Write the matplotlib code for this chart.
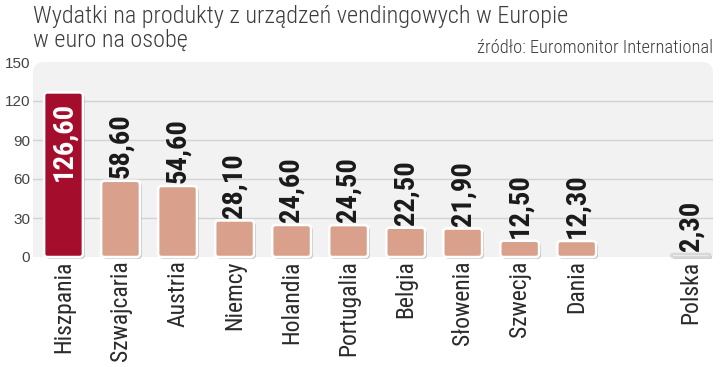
import matplotlib
matplotlib.use("Agg")
import matplotlib.pyplot as plt
import matplotlib.patheffects as pe
from matplotlib.patches import FancyBboxPatch

# ---- data ----
categories = ["Hiszpania", "Szwajcaria", "Austria", "Niemcy", "Holandia", "Portugalia",
              "Belgia", "Słowenia", "Szwecja", "Dania", "Polska"]
values = [126.60, 58.60, 54.60, 28.10, 24.60, 24.50, 22.50, 21.90, 12.50, 12.30, 2.30]
positions = [0, 1, 2, 3, 4, 5, 6, 7, 8, 9, 11]
yticks = [0, 30, 60, 90, 120, 150]
title_lines = ["Wydatki na produkty z urządzeń vendingowych w Europie", "w euro na osobę"]
source = "źródło: Euromonitor International"

NARROW = ["Roboto Condensed", "DejaVu Sans"]
REG = ["Liberation Sans", "DejaVu Sans"]
STRETCH = "condensed"

W, H = 720, 367
fig = plt.figure(figsize=(W / 100, H / 100), dpi=100)
fig.patch.set_facecolor("white")
ax = fig.add_axes([33 / W, 1 - 257 / H, 680 / W, 195 / H])
ax.set_facecolor("none")
ax.set_xlim(-0.535, 11.39)
ax.set_ylim(0, 150)

# panel background
panel = FancyBboxPatch((0, -0.2), 1, 1.2, boxstyle="round,pad=0,rounding_size=0.016",
                       mutation_aspect=680 / 195, transform=ax.transAxes,
                       facecolor="#f2f2f2", edgecolor="none", zorder=0)
ax.add_patch(panel)
panel.set_clip_on(True)

# grid
ax.set_yticks(yticks)
ax.yaxis.grid(True, color="#d3d3d3", linewidth=1.0, zorder=1)
gl = ax.get_ygridlines()
gl[0].set_visible(False)
gl[-1].set_visible(False)
ax.set_axisbelow(True)

for s in ax.spines.values():
    s.set_visible(False)

# bars
bar_w = 0.68
bars = ax.bar(positions, values, width=bar_w, color="#d9a08b")
px_x = 680 / (11.39 + 0.535)
px_y = 195 / 150
aspect = px_x / px_y
shadow = [pe.SimplePatchShadow(offset=(1.3, -1.3), shadow_rgbFace="#6a6a6a", alpha=0.4), pe.Normal()]
for b, name, v in zip(bars, categories, values):
    b.set_visible(False)
    x, y = b.get_xy()
    w, h = b.get_width(), b.get_height()
    if name == "Hiszpania":
        fc = "#a50d2c"
    elif name == "Polska":
        fc = "#ffffff"
    else:
        fc = "#d9a08b"
    r = min(0.06, h / aspect / 2)
    p = FancyBboxPatch((x, y), w, h, boxstyle=f"round,pad=0,rounding_size={r}",
                       mutation_aspect=aspect, facecolor=fc,
                       edgecolor="#ffffff" if name != "Polska" else "#d8d8d8",
                       linewidth=1.8, zorder=2, clip_on=False)
    p.set_path_effects(shadow)
    ax.add_patch(p)

# value labels
for pos, name, v in zip(positions, categories, values):
    txt = f"{v:.2f}".replace(".", ",")
    if name == "Hiszpania":
        ax.annotate(txt, (pos, v), xytext=(0, -6.5), textcoords="offset points",
                    rotation=90, ha="center", va="top", color="white",
                    fontsize=20.5, fontweight="bold", family=NARROW, fontstretch=STRETCH, zorder=4)
    else:
        ax.annotate(txt, (pos, v), xytext=(0, 2), textcoords="offset points",
                    rotation=90, ha="center", va="bottom", color="#1a1a1a",
                    fontsize=20.5, fontweight="bold", family=NARROW, fontstretch=STRETCH, zorder=4)

# ticks
ax.set_xticks(positions)
ax.set_xticklabels(categories, rotation=90, va="top", ha="center",
                   fontsize=17, family=NARROW, fontstretch=STRETCH, color="#2b2b2b")
ax.set_yticklabels([str(t) for t in yticks], fontsize=11, family=REG, color="#444444")
ax.tick_params(axis="both", length=0)
ax.tick_params(axis="y", pad=2)
ax.tick_params(axis="x", pad=2.5)

# titles
fig.text(33 / W, 1 - 23 / H, title_lines[0], fontsize=17.5, family=NARROW, fontstretch=STRETCH,
         fontweight="light", color="#3c3c3c", ha="left", va="baseline")
fig.text(33 / W, 1 - 47 / H, title_lines[1], fontsize=17.5, family=NARROW, fontstretch=STRETCH,
         fontweight="light", color="#3c3c3c", ha="left", va="baseline")
fig.text(713 / W, 1 - 53 / H, source, fontsize=13.2, family=NARROW, fontstretch=STRETCH,
         fontweight="light", color="#3c3c3c", ha="right", va="baseline")

fig.savefig("out.png", dpi=100, facecolor="white")
